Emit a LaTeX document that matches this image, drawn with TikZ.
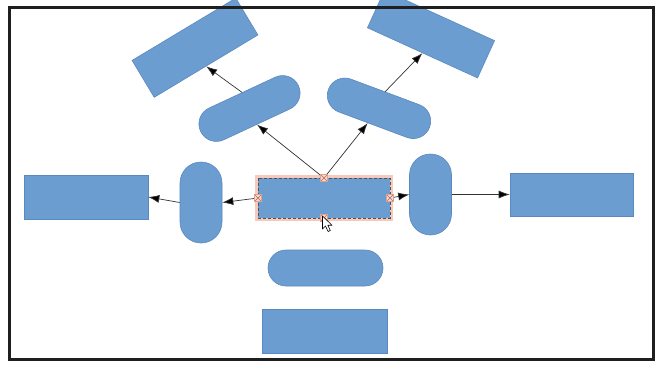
\documentclass[tikz,border=0pt]{standalone}
\usetikzlibrary{arrows.meta,calc}
\definecolor{shapefill}{HTML}{6B9DD1}
\definecolor{shapeedge}{HTML}{5A89BF}
\definecolor{linecol}{HTML}{333333}
\definecolor{glow}{HTML}{F5C9BC}
\definecolor{handle}{HTML}{E3A08E}
\tikzset{
  boxshape/.style={draw=shapeedge, line width=0.6pt, fill=shapefill, inner sep=0pt, minimum width=#1},
  hbox/.style={boxshape=123pt, minimum height=43pt},
  pill/.style={draw=shapeedge, line width=0.6pt, fill=shapefill, inner sep=0pt, minimum width=108pt, minimum height=35pt, rounded corners=17.5pt},
  vpill/.style={draw=shapeedge, line width=0.6pt, fill=shapefill, inner sep=0pt, minimum width=42pt, minimum height=81pt, rounded corners=21pt},
  conn/.style={draw=linecol, line width=0.7pt, -{Latex[length=11pt,width=8pt,fill=black]}},
  hnd/.style={draw=handle, fill=glow!70, line width=0.5pt, minimum size=7pt, inner sep=0pt}
}
\begin{document}
\begin{tikzpicture}[x=1pt,y=-1pt]
\useasboundingbox (0,0) rectangle (663,367);
\fill[white] (0,0) rectangle (663,367);
% top rectangles
\node[boxshape=121pt, minimum height=43pt, rotate=31] (tlr) at (195,47.7) {};
\node[boxshape=121pt, minimum height=41pt, rotate=-24.5] (trr) at (431,34.2) {};
% pills
\node[pill, rotate=25] (tls) at (249.5,108.5) {};
\node[pill, rotate=-20.5] (trs) at (379,108.3) {};
\node[vpill] (ls) at (201,202.5) {};
\node[vpill] (rs) at (430.5,194.5) {};
\node[pill, minimum width=115pt, minimum height=36pt, rounded corners=18pt] (bs) at (325.5,268) {};
% side and bottom rectangles
\node[hbox, minimum width=124pt, minimum height=44pt] (lr) at (86,197) {};
\node[hbox] (rr) at (571.5,194.5) {};
\node[hbox, minimum width=125pt, minimum height=44pt] (br) at (324.5,331) {};
% selected centre rectangle
\node[fill=shapefill, inner sep=0pt, outer sep=0pt, minimum width=132pt, minimum height=40pt] (c) at (324,198) {};
\draw[glow, line width=3pt] ($(c.north west)+(-1.5,-1.5)$) rectangle ($(c.south east)+(1.5,1.5)$);
\draw[draw=linecol!85, line width=0.9pt, dash pattern=on 3pt off 2pt] (c.north west) rectangle (c.south east);
% connectors
\draw[conn] (c.north) -- (tls.south);
\draw[conn] (c.north) -- ($(trs.south)!0.1!(trs.south west)$);
\draw[conn] (tls.north) -- (tlr.south);
\draw[conn] (trs.north) -- (trr.south);
\draw[conn] (c.west) -- (ls.east);
\draw[conn] (ls.west) -- (lr.east);
\draw[conn] (c.east) -- (rs.west);
\draw[conn] (rs.east) -- (rr.west);
% connection handles
\foreach \a in {north,south,east,west}{
  \node[hnd] (h\a) at (c.\a) {};
  \draw[handle!70!black, line width=0.4pt] ($(h\a.south west)+(1,-1)$) -- ($(h\a.north east)+(-1,1)$) ($(h\a.north west)+(1,1)$) -- ($(h\a.south east)+(-1,-1)$);
}
% mouse cursor
\coordinate (cur) at (322.5,216);
\draw[black, fill=white, line width=0.6pt, line join=round]
  (cur) -- ++(0,13) -- ++(3,-3) -- ++(2.6,5.5) -- ++(2.2,-1) -- ++(-2.5,-5.3) -- ++(4.2,0) -- cycle;
% frame
\draw[draw=black!88, line width=3pt] (9,7) rectangle (653,359);
\end{tikzpicture}
\end{document}
